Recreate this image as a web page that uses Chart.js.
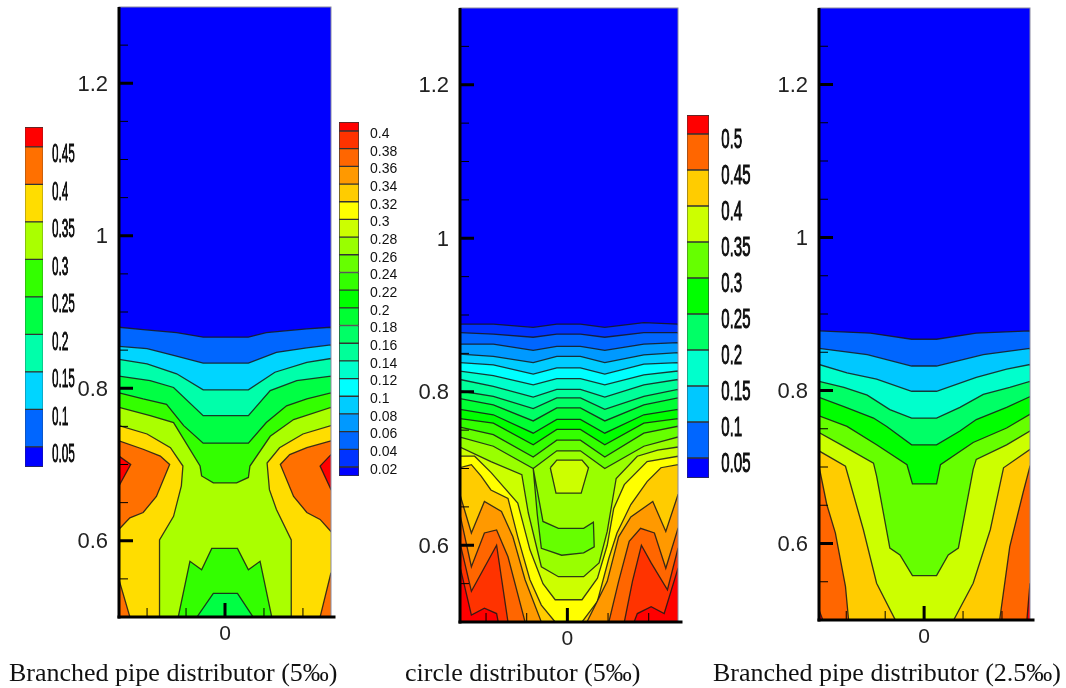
<!DOCTYPE html>
<html>
<head>
<meta charset="utf-8">
<title>Contours</title>
<script src="https://cdn.jsdelivr.net/npm/chart.js@4"></script>
<style>
html, body { margin: 0; background: #fff; width: 1066px; height: 688px; overflow: hidden; }
canvas { position: absolute; filter: blur(0.5px); }
.cap { position: absolute; top: 658px; font: 26px "Liberation Serif", serif; color: #111; white-space: nowrap; }
</style>
</head>
<body>
<canvas id="panel1"></canvas>
<canvas id="panel2"></canvas>
<canvas id="panel3"></canvas>
<canvas id="legend1"></canvas>
<canvas id="legend2"></canvas>
<canvas id="legend3"></canvas>
<div class="cap" style="left:9px">Branched pipe distributor (5‰)</div>
<div class="cap" style="left:405px">circle distributor (5‰)</div>
<div class="cap" style="left:713px">Branched pipe distributor (2.5‰)</div>
<script>
// legend levels and band colours, lowest band first
const levels1 = [0.05, 0.1, 0.15, 0.2, 0.25, 0.3, 0.35, 0.4, 0.45];
const colors1 = ['#0000ff', '#0066ff', '#00d5ff', '#00ffaa', '#00ff44', '#33ff00', '#aaff00', '#ffdd00', '#ff7000', '#ff0000'];
const levels2 = [0.02, 0.04, 0.06, 0.08, 0.1, 0.12, 0.14, 0.16, 0.18, 0.2, 0.22, 0.24, 0.26, 0.28, 0.3, 0.32, 0.34, 0.36, 0.38, 0.4];
const colors2 = ['#0000ff', '#0033ff', '#0066ff', '#0099ff', '#00ccff', '#00ffff', '#00ffcc', '#00ff99', '#00ff66', '#00ff33', '#00ff00',
    '#33ff00', '#66ff00', '#99ff00', '#ccff00', '#ffff00', '#ffcc00', '#ff9900', '#ff6600', '#ff3300', '#ff0000'];
const levels3 = [0.05, 0.1, 0.15, 0.2, 0.25, 0.3, 0.35, 0.4, 0.45, 0.5];
const colors3 = ['#0000ff', '#0066ff', '#00c8ff', '#00ffcc', '#00ff66', '#00ff00', '#66ff00', '#ccff00', '#ffcc00', '#ff6600', '#ff0000'];

// axis ticks, shared by the three plots
const yMajor = [0.6, 0.8, 1, 1.2];
const yMinor = [0.55, 0.65, 0.7, 0.75, 0.85, 0.9, 0.95, 1.05, 1.1, 1.15, 1.25];
const xMajor = [0];
const xMinor = [-0.1, -0.05, 0.05, 0.1];

// closing pieces: they run outside the plot so only the contour itself gets stroked
const whole = [[-0.3, 0.4], [0.3, 0.4], [0.3, 1.4], [-0.3, 1.4]];
const under = [[0.3, 0.4], [-0.3, 0.4]];

// panel 1, branched pipe 5
const p1c05 = [[-0.136, 0.880], [-0.105, 0.877], [-0.062, 0.873], [-0.028, 0.867], [0.030, 0.867], [0.053, 0.873], [0.105, 0.878], [0.136, 0.880]];
const p1c10 = [[-0.136, 0.855], [-0.100, 0.852], [-0.066, 0.843], [-0.028, 0.833], [0.030, 0.833], [0.066, 0.847], [0.105, 0.853], [0.136, 0.857]];
const p1c15 = [[-0.136, 0.838], [-0.100, 0.832], [-0.062, 0.819], [-0.028, 0.798], [0.030, 0.798], [0.064, 0.821], [0.105, 0.834], [0.136, 0.839]];
const p1c20 = [[-0.136, 0.816], [-0.096, 0.810], [-0.066, 0.801], [-0.028, 0.764], [0.030, 0.764], [0.058, 0.797], [0.092, 0.810], [0.136, 0.816]];
const p1c25 = [[-0.136, 0.794], [-0.105, 0.786], [-0.075, 0.779], [-0.053, 0.751], [-0.028, 0.728], [0.030, 0.728], [0.053, 0.755], [0.079, 0.777], [0.105, 0.786], [0.136, 0.794]];
const p1c30 = [[-0.136, 0.775], [-0.096, 0.764], [-0.066, 0.755], [-0.032, 0.698], [-0.030, 0.685], [-0.015, 0.676], [0.015, 0.676], [0.030, 0.683], [0.032, 0.698], [0.058, 0.737], [0.088, 0.759], [0.136, 0.775]];
const p1c35a = [[-0.136, 0.751], [-0.100, 0.740], [-0.070, 0.722], [-0.054, 0.698], [-0.056, 0.672], [-0.066, 0.632], [-0.084, 0.601], [-0.084, 0.500], [-0.084, 0.4], [-0.3, 0.4], [-0.3, 0.751]];
const p1c35b = [[0.136, 0.751], [0.100, 0.740], [0.070, 0.722], [0.054, 0.702], [0.057, 0.667], [0.066, 0.641], [0.085, 0.601], [0.085, 0.500], [0.085, 0.4], [0.3, 0.4], [0.3, 0.751]];
const p1c40a = [[-0.136, 0.731], [-0.105, 0.720], [-0.083, 0.711], [-0.071, 0.700], [-0.088, 0.658], [-0.105, 0.637], [-0.122, 0.630], [-0.136, 0.615], [-0.3, 0.615], [-0.3, 0.731]];
const p1c40b = [[0.136, 0.731], [0.105, 0.722], [0.083, 0.713], [0.071, 0.700], [0.088, 0.658], [0.105, 0.637], [0.122, 0.628], [0.136, 0.612], [0.3, 0.612], [0.3, 0.731]];
const p1c40c = [[-0.136, 0.549], [-0.122, 0.500], [-0.122, 0.4], [-0.3, 0.4], [-0.3, 0.549]];
const p1c40d = [[0.136, 0.558], [0.122, 0.500], [0.122, 0.4], [0.3, 0.4], [0.3, 0.558]];
const p1c45a = [[-0.136, 0.711], [-0.121, 0.700], [-0.136, 0.672], [-0.3, 0.672], [-0.3, 0.711]];
const p1c45b = [[0.136, 0.713], [0.122, 0.698], [0.136, 0.667], [0.3, 0.667], [0.3, 0.713]];
const p1i30 = [[-0.060, 0.500], [-0.045, 0.573], [-0.030, 0.562], [-0.017, 0.590], [0.016, 0.590], [0.030, 0.562], [0.045, 0.573], [0.060, 0.500], [0.060, 0.4], [-0.060, 0.4]];
const p1i25 = [[-0.036, 0.500], [-0.015, 0.531], [0.016, 0.531], [0.036, 0.500], [0.036, 0.4], [-0.036, 0.4]];

// panel 2, circle 5: upper contours share these x nodes
const p2X = [-0.132, -0.091, -0.042, -0.013, 0.016, 0.046, 0.094, 0.136];
const p2c02 = [0.888, 0.888, 0.884, 0.888, 0.888, 0.884, 0.890, 0.888];
const p2c04 = [0.877, 0.875, 0.871, 0.875, 0.875, 0.871, 0.877, 0.877];
const p2c06 = [0.862, 0.862, 0.854, 0.859, 0.859, 0.854, 0.862, 0.864];
const p2c08 = [0.849, 0.846, 0.838, 0.846, 0.846, 0.838, 0.848, 0.851];
const p2c10 = [0.838, 0.835, 0.823, 0.831, 0.831, 0.823, 0.836, 0.838];
const p2c12 = [0.827, 0.821, 0.809, 0.817, 0.817, 0.809, 0.822, 0.827];
const p2c14 = [0.816, 0.807, 0.793, 0.803, 0.803, 0.793, 0.809, 0.816];
const p2c16 = [0.801, 0.794, 0.778, 0.792, 0.792, 0.777, 0.794, 0.803];
const p2c18 = [0.791, 0.783, 0.762, 0.779, 0.779, 0.762, 0.783, 0.792];
const p2c20 = [0.777, 0.770, 0.746, 0.764, 0.764, 0.746, 0.770, 0.777];
const p2c22 = [0.765, 0.759, 0.731, 0.751, 0.751, 0.731, 0.759, 0.765];
const p2c24 = [0.754, 0.744, 0.715, 0.737, 0.737, 0.715, 0.746, 0.755];
const p2c26 = [0.741, 0.729, 0.700, 0.723, 0.723, 0.700, 0.729, 0.741];
const p2c28 = [[-0.132, 0.728], [-0.094, 0.709], [-0.056, 0.692], [-0.048, 0.642], [-0.032, 0.572], [-0.011, 0.559], [0.020, 0.559], [0.039, 0.577], [0.049, 0.618], [0.060, 0.687], [0.086, 0.716], [0.111, 0.724], [0.136, 0.728]];
const p2c30 = [[-0.132, 0.716], [-0.114, 0.716], [-0.094, 0.695], [-0.061, 0.655], [-0.046, 0.594], [-0.030, 0.550], [-0.015, 0.529], [0.018, 0.529], [0.037, 0.557], [0.049, 0.600], [0.057, 0.648], [0.070, 0.679], [0.098, 0.709], [0.136, 0.716]];
const p2c32 = [[-0.132, 0.701], [-0.118, 0.705], [-0.106, 0.690], [-0.094, 0.672], [-0.073, 0.661], [-0.061, 0.611], [-0.046, 0.555], [-0.032, 0.522], [-0.015, 0.5], [0.018, 0.5], [0.037, 0.527], [0.051, 0.583], [0.061, 0.616], [0.078, 0.653], [0.098, 0.683], [0.115, 0.701], [0.136, 0.705]];
const p2c34a = [[-0.132, 0.666], [-0.118, 0.616], [-0.102, 0.657], [-0.081, 0.644], [-0.067, 0.611], [-0.052, 0.555], [-0.032, 0.5], [-0.032, 0.4], [-0.3, 0.4], [-0.3, 0.666]];
const p2c34b = [[0.024, 0.5], [0.049, 0.553], [0.063, 0.611], [0.078, 0.637], [0.105, 0.657], [0.121, 0.618], [0.136, 0.666], [0.3, 0.666], [0.3, 0.4], [0.024, 0.4]];
const p2c36a = [[-0.132, 0.640], [-0.118, 0.572], [-0.102, 0.616], [-0.087, 0.620], [-0.073, 0.585], [-0.052, 0.5], [-0.052, 0.4], [-0.3, 0.4], [-0.3, 0.640]];
const p2c36b = [[0.051, 0.5], [0.063, 0.553], [0.076, 0.605], [0.090, 0.622], [0.107, 0.616], [0.121, 0.570], [0.136, 0.622], [0.3, 0.622], [0.3, 0.4], [0.051, 0.4]];
const p2c38a = [[-0.132, 0.603], [-0.118, 0.540], [-0.087, 0.600], [-0.073, 0.5], [-0.073, 0.4], [-0.3, 0.4], [-0.3, 0.603]];
const p2c38b = [[0.070, 0.5], [0.080, 0.553], [0.091, 0.600], [0.103, 0.577], [0.123, 0.542], [0.136, 0.596], [0.3, 0.596], [0.3, 0.4], [0.070, 0.4]];
const p2c40a = [[-0.132, 0.572], [-0.118, 0.509], [-0.102, 0.518], [-0.087, 0.511], [-0.085, 0.5], [-0.085, 0.4], [-0.3, 0.4], [-0.3, 0.572]];
const p2c40b = [[0.082, 0.5], [0.086, 0.511], [0.103, 0.520], [0.119, 0.511], [0.136, 0.570], [0.3, 0.570], [0.3, 0.4], [0.082, 0.4]];
const p2i28 = [[-0.021, 0.701], [-0.013, 0.711], [0.018, 0.711], [0.026, 0.701], [0.017, 0.668], [-0.014, 0.668], [-0.021, 0.701]];
const p2i26 = [[-0.042, 0.700], [-0.030, 0.631], [-0.011, 0.622], [0.020, 0.622], [0.032, 0.630], [0.033, 0.598], [0.020, 0.590], [-0.007, 0.587], [-0.032, 0.596], [-0.037, 0.640], [-0.042, 0.700]];

// panel 3, branched pipe 2.5
const p3c05 = [[-0.135, 0.878], [-0.069, 0.875], [-0.016, 0.867], [0.016, 0.867], [0.067, 0.875], [0.136, 0.878]];
const p3c10 = [[-0.135, 0.855], [-0.073, 0.847], [-0.016, 0.832], [0.016, 0.832], [0.076, 0.847], [0.136, 0.855]];
const p3c15 = [[-0.135, 0.834], [-0.099, 0.823], [-0.061, 0.815], [-0.016, 0.799], [0.016, 0.799], [0.067, 0.817], [0.106, 0.828], [0.136, 0.834]];
const p3c20 = [[-0.135, 0.812], [-0.103, 0.804], [-0.073, 0.794], [-0.044, 0.775], [-0.016, 0.764], [0.016, 0.764], [0.046, 0.778], [0.076, 0.795], [0.110, 0.804], [0.136, 0.812]];
const p3c25 = [[-0.135, 0.791], [-0.103, 0.779], [-0.065, 0.764], [-0.048, 0.753], [-0.016, 0.729], [0.016, 0.729], [0.046, 0.747], [0.067, 0.762], [0.106, 0.778], [0.136, 0.792]];
const p3c30 = [[-0.135, 0.767], [-0.099, 0.753], [-0.061, 0.729], [-0.022, 0.703], [-0.015, 0.678], [0.016, 0.678], [0.021, 0.703], [0.063, 0.732], [0.106, 0.751], [0.136, 0.769]];
const p3c35 = [[-0.135, 0.745], [-0.103, 0.727], [-0.065, 0.705], [-0.061, 0.688], [-0.044, 0.594], [-0.031, 0.585], [-0.015, 0.558], [0.016, 0.558], [0.031, 0.585], [0.044, 0.594], [0.063, 0.697], [0.067, 0.710], [0.106, 0.729], [0.136, 0.747]];
const p3c40a = [[-0.135, 0.721], [-0.101, 0.701], [-0.078, 0.618], [-0.061, 0.548], [-0.037, 0.5], [-0.037, 0.4], [-0.3, 0.4], [-0.3, 0.721]];
const p3c40b = [[0.038, 0.5], [0.063, 0.548], [0.085, 0.618], [0.102, 0.699], [0.136, 0.723], [0.3, 0.723], [0.3, 0.4], [0.038, 0.4]];
const p3c45a = [[-0.135, 0.701], [-0.125, 0.651], [-0.114, 0.614], [-0.101, 0.544], [-0.097, 0.5], [-0.097, 0.4], [-0.3, 0.4], [-0.3, 0.701]];
const p3c45b = [[0.097, 0.5], [0.110, 0.596], [0.127, 0.666], [0.136, 0.701], [0.3, 0.701], [0.3, 0.4], [0.097, 0.4]];
const p3c50a = [[-0.135, 0.513], [-0.130, 0.5], [-0.130, 0.4], [-0.3, 0.4], [-0.3, 0.513]];
const p3c50b = [[0.136, 0.548], [0.132, 0.5], [0.132, 0.4], [0.3, 0.4], [0.3, 0.548]];

// joins x nodes and heights into one contour
const onNodes = (ys) => ys.map((y, i) => [p2X[i], y]);

const panel1Layers = [
    [whole, colors1[0]], [p1c05.concat(under), colors1[1]], [p1c10.concat(under), colors1[2]], [p1c15.concat(under), colors1[3]],
    [p1c20.concat(under), colors1[4]], [p1c25.concat(under), colors1[5]], [p1c30.concat(under), colors1[6]],
    [p1c35a, colors1[7]], [p1c35b, colors1[7]], [p1c40a, colors1[8]], [p1c40b, colors1[8]], [p1c40c, colors1[8]], [p1c40d, colors1[8]],
    [p1c45a, colors1[9]], [p1c45b, colors1[9]], [p1i30, colors1[5]], [p1i25, colors1[4]]
];
const panel2Layers = [
    [whole, colors2[0]],
    ...[p2c02, p2c04, p2c06, p2c08, p2c10, p2c12, p2c14, p2c16, p2c18, p2c20, p2c22, p2c24, p2c26].map((ys, i) => [onNodes(ys).concat(under), colors2[i + 1]]),
    [p2c28.concat(under), colors2[14]], [p2c30.concat(under), colors2[15]], [p2c32.concat(under), colors2[16]],
    [p2c34a, colors2[17]], [p2c34b, colors2[17]], [p2c36a, colors2[18]], [p2c36b, colors2[18]],
    [p2c38a, colors2[19]], [p2c38b, colors2[19]], [p2c40a, colors2[20]], [p2c40b, colors2[20]],
    [p2i28, colors2[14]], [p2i26, colors2[12]]
];
const panel3Layers = [
    [whole, colors3[0]], [p3c05.concat(under), colors3[1]], [p3c10.concat(under), colors3[2]], [p3c15.concat(under), colors3[3]],
    [p3c20.concat(under), colors3[4]], [p3c25.concat(under), colors3[5]], [p3c30.concat(under), colors3[6]], [p3c35.concat(under), colors3[7]],
    [p3c40a, colors3[8]], [p3c40b, colors3[8]], [p3c45a, colors3[9]], [p3c45b, colors3[9]], [p3c50a, colors3[10]], [p3c50b, colors3[10]]
];

const frameTicks = {
    id: 'frameTicks',
    afterDatasetsDraw(chart) {
        const { ctx, chartArea: a, scales: { x, y } } = chart;
        ctx.save();
        ctx.strokeStyle = '#8a8aa0';
        ctx.lineWidth = 1;
        ctx.strokeRect(a.left, a.top, a.right - a.left, a.bottom - a.top);
        ctx.fillStyle = '#000';
        yMinor.forEach(v => ctx.fillRect(a.left, y.getPixelForValue(v) - 0.5, 9, 1));
        yMajor.forEach(v => ctx.fillRect(a.left, y.getPixelForValue(v) - 1.5, 14, 3));
        xMinor.forEach(v => ctx.fillRect(x.getPixelForValue(v) - 0.5, a.bottom - 9, 1, 9));
        xMajor.forEach(v => ctx.fillRect(x.getPixelForValue(v) - 1.5, a.bottom - 14, 3, 14));
        ctx.fillRect(a.left - 1.5, a.top, 3, a.bottom - a.top + 1.5);
        ctx.fillRect(a.left - 1.5, a.bottom - 1.5, a.right - a.left + 6, 3);
        ctx.restore();
    }
};

const PAD = 50; // room for the tick label margins chart.js reserves above and below

function makePanel(id, box, xMin, xMax, layers) {
    const canvas = document.getElementById(id);
    canvas.width = box.right - box.left + 70;
    canvas.height = box.bottom - box.top + PAD + 40;
    canvas.style.left = (box.left - 60) + 'px';
    canvas.style.top = (box.top - PAD) + 'px';
    new Chart(canvas, {
        type: 'scatter',
        data: {
            datasets: layers.slice().reverse().map(([pts, color]) => ({
                data: pts.map(([x, y]) => ({ x, y })),
                showLine: true,
                fill: 'shape',
                backgroundColor: color,
                borderColor: pts === whole ? color : 'rgba(25,25,25,0.85)',
                borderWidth: 1.3,
                pointRadius: 0,
                clip: 0
            }))
        },
        options: {
            responsive: false,
            animation: false,
            events: [],
            layout: { padding: { top: PAD, right: 10, left: 0, bottom: 0 } },
            plugins: { legend: { display: false }, tooltip: { enabled: false } },
            scales: {
                x: {
                    type: 'linear', min: xMin, max: xMax,
                    grid: { display: false, drawTicks: false }, border: { display: false },
                    afterBuildTicks: s => { s.ticks = xMajor.map(value => ({ value })); },
                    afterFit: s => { s.height = 40; },
                    ticks: { padding: 5, color: '#222', font: { family: 'Liberation Sans', size: 21 }, maxRotation: 0, autoSkip: false, callback: v => String(v) }
                },
                y: {
                    type: 'linear', min: 0.5, max: 1.3,
                    grid: { display: false, drawTicks: false }, border: { display: false },
                    afterBuildTicks: s => { s.ticks = yMajor.map(value => ({ value })); },
                    afterFit: s => { s.width = 60; },
                    ticks: { padding: 11, labelOffset: 1.5, color: '#222', font: { family: 'Liberation Sans', size: 22 }, autoSkip: false, callback: v => String(v) }
                }
            }
        },
        plugins: [frameTicks]
    });
}

function makeLegend(id, box, levels, colors, vMin, vMax, fontSize, labelOffset, gap, squeeze, heavy) {
    const canvas = document.getElementById(id);
    const barW = (box.right - box.left) / squeeze;
    const axisW = 90;
    canvas.width = barW + axisW;
    canvas.height = box.bottom - box.top + 2 * PAD;
    canvas.style.left = box.left + 'px';
    canvas.style.top = (box.top - PAD) + 'px';
    canvas.style.transformOrigin = '0 0';
    canvas.style.transform = 'scaleX(' + squeeze + ')';
    const edges = [vMin, ...levels, vMax];
    new Chart(canvas, {
        type: 'bar',
        data: {
            labels: ['band'],
            datasets: colors.map((color, i) => ({
                data: [[edges[i], edges[i + 1]]],
                backgroundColor: color,
                borderColor: '#333',
                borderWidth: 1,
                borderSkipped: false,
                grouped: false,
                barPercentage: 1,
                categoryPercentage: 1
            }))
        },
        options: {
            responsive: false,
            animation: false,
            events: [],
            layout: { padding: { top: PAD, bottom: PAD, left: 0, right: 0 } },
            plugins: { legend: { display: false }, tooltip: { enabled: false } },
            scales: {
                x: { display: false },
                y: {
                    type: 'linear', position: 'right', min: vMin, max: vMax,
                    grid: { display: false, drawTicks: false }, border: { display: false },
                    afterBuildTicks: s => { s.ticks = levels.map(value => ({ value })); },
                    afterFit: s => { s.width = axisW; },
                    ticks: { padding: gap, labelOffset, color: '#111', textStrokeColor: '#111', textStrokeWidth: heavy, font: { family: 'Liberation Sans', size: fontSize }, autoSkip: false, callback: v => String(v) }
                }
            }
        }
    });
}

makePanel('panel1', { left: 119, right: 331, top: 7, bottom: 617 }, -0.136, 0.136, panel1Layers);
makePanel('panel2', { left: 460, right: 678, top: 8, bottom: 622 }, -0.132, 0.136, panel2Layers);
makePanel('panel3', { left: 819, right: 1030, top: 8, bottom: 620 }, -0.135, 0.136, panel3Layers);
makeLegend('legend1', { left: 25, right: 43, top: 127, bottom: 467 }, levels1, colors1, 0.0231, 0.4766, 26, 8, 20, 0.45, 1);
makeLegend('legend2', { left: 339, right: 359, top: 122, bottom: 476 }, levels2, colors2, 0.0098, 0.4102, 14, 3, 11, 1, 0);
makeLegend('legend3', { left: 687, right: 709, top: 115, bottom: 478 }, levels3, colors3, 0.0222, 0.5264, 27, 7, 22, 0.56, 1);
</script>
</body>
</html>
